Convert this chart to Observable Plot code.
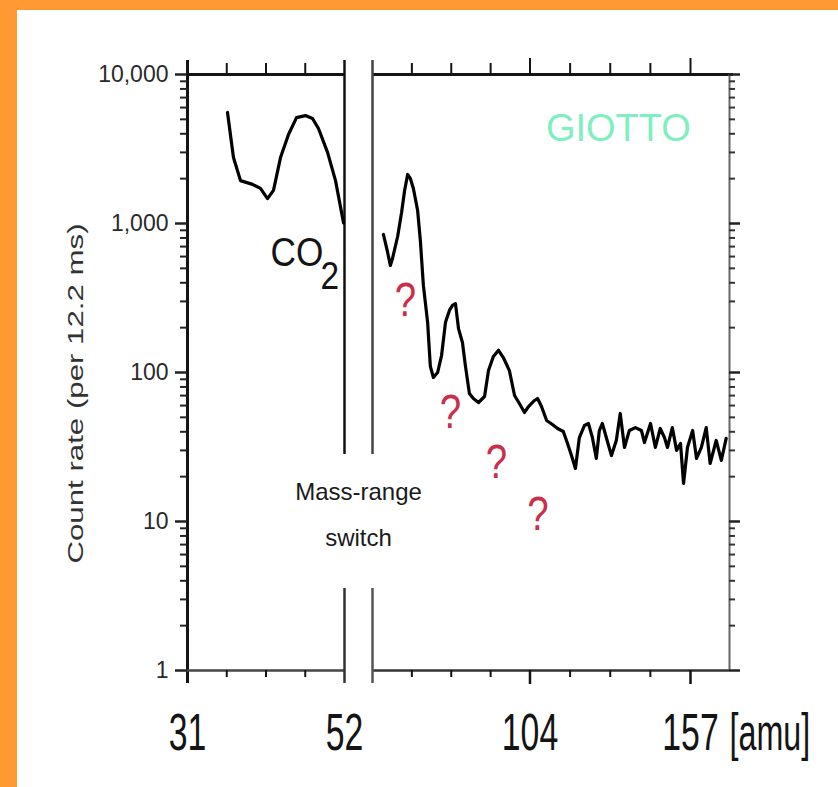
<!DOCTYPE html>
<html><head><meta charset="utf-8">
<script src="https://cdn.jsdelivr.net/npm/d3@7"></script>
<script src="https://cdn.jsdelivr.net/npm/@observablehq/plot@0.6"></script>
<style>
html,body{margin:0;padding:0;background:#fff;}
#wrap{position:relative;width:838px;height:787px;overflow:hidden;background:#fff;}
#wrap svg{position:absolute;left:0;top:0;}
.bar{position:absolute;background:#FF9933;z-index:2;}
</style></head><body>
<div id="wrap"><div class="bar" style="left:0;top:0;width:838px;height:10px"></div><div class="bar" style="left:0;top:0;width:17px;height:787px"></div></div>
<script>
// ---- data: low mass range (before switch) ----
const massLow  = [36.35, 37.15, 38.09, 39.69, 40.76, 41.70, 42.50, 43.44, 44.51, 45.58, 46.78, 47.72, 48.52, 49.73, 50.80, 51.87];
const countLow = [5560, 2770, 1940, 1830, 1720, 1470, 1670, 2770, 3960, 5140, 5300, 5070, 4340, 3000, 1940, 1010];
// ---- data: high mass range (after switch) ----
const massHigh = [55.6, 57.0, 57.9, 58.6, 60.3, 61.6, 62.6, 63.6, 64.5, 65.5,
  66.9, 67.8, 68.8, 70.2, 71.1, 72.1, 73.5, 74.8, 76.1, 77.4,
  78.4, 79.4, 80.4, 81.7, 82.7, 84.0, 85.3, 87.0, 89.0, 90.3,
  91.9, 93.6, 95.2, 97.2, 98.9, 100.5, 102.2, 103.5, 105.5, 106.5,
  107.8, 109.5, 111.4, 113.1, 115.0, 116.4, 117.7, 119.0, 120.3, 122.0,
  123.3, 124.6, 125.9, 126.9, 127.9, 129.2, 130.9, 132.5, 133.8, 135.2,
  136.8, 138.8, 140.8, 141.8, 143.8, 145.4, 147.0, 148.4, 149.4, 151.0,
  152.4, 153.7, 154.7, 156.0, 157.7, 159.0, 160.6, 162.2, 163.5, 165.5,
  167.2, 168.8];
const countHigh = [844, 639, 523, 582, 818, 1186, 1665, 2133, 2005, 1718,
  1222, 769, 384, 217, 110, 92.6, 100, 130, 217, 261,
  282, 290, 197, 159, 110, 72.3, 66.9, 62.9, 69.0, 103,
  128, 141, 126, 103, 70.1, 61.9, 53.9, 59.1, 64.9, 66.9,
  59.1, 47.6, 44.8, 42.1, 40.2, 33.4, 27.7, 22.7, 36.6, 44.1,
  45.5, 36.6, 26.5, 40.8, 45.5, 36.6, 27.7, 35.0, 53.1, 31.4,
  40.8, 42.7, 40.8, 33.9, 45.5, 31.4, 42.1, 36.6, 31.4, 42.7,
  30.0, 33.4, 18.0, 31.4, 40.8, 26.5, 31.4, 42.7, 24.5, 35.0,
  25.7, 36.1];
// ---- ticks ----
const xTickMass = [31, 52, 104, 157];
const xTickLabels = ["31", "52", "104", "157"];
const xUnit = "[amu]";
const xMinorLow = [36.25, 41.5, 46.75];
const xMinorHigh = [65, 78, 91, 117.25, 130.5, 143.75];
const yDecades = [1, 10, 100, 1000, 10000];
const yDecadeLabels = ["1", "10", "100", "1,000", "10,000"];
const yMinor = [];
for (const d of [1, 10, 100, 1000]) for (const m of [2,3,4,5,6,7,8,9]) yMinor.push(m * d);
const yTitle = "Count rate (per 12.2 ms)";
// ---- annotations (anchor points in data space) ----
const qMass = [62.9, 77.7, 92.9, 106.6];
const qCount = [303, 53.9, 24.9, 11.1];
const switchText = ["Mass-range", "switch"];
const switchCount = [15.6, 7.7];
const speciesText = "CO"; const speciesMass = 42.1; const speciesCount = 634;
const subText = "2"; const subMass = 48.8; const subCount = 437;
const missionText = "GIOTTO"; const missionMass = 133.2; const missionCount = 4306;

// scale geometry
const LOW0 = 31, SW = 52, SW2 = 52.0001, XEND = 169.9;
const aL = 21 / 157, aR = 105 / 318; // amu per pixel, low / high segments
const yPx = p => Math.pow(10, p / 149); // multiplier for p pixels on log axis

const font = "'Liberation Sans', Arial, Helvetica, sans-serif";
const ink = "#141414";

const chart = Plot.plot({
  width: 838, height: 787,
  marginLeft: 187, marginRight: 109, marginTop: 74, marginBottom: 117,
  style: {background: "transparent", fontFamily: font, overflow: "visible"},
  x: {type: "linear", domain: [LOW0, SW, SW2, 157, XEND], range: [187, 344, 372, 690, 729], axis: null},
  y: {type: "log", domain: [1, 10000], range: [670, 74], axis: null},
  marks: [
    // axes frame
    Plot.ruleX([LOW0], {y1: 1 / yPx(13), y2: 10000 * yPx(14), stroke: ink, strokeWidth: 3}),
    Plot.ruleY([10000], {x1: LOW0, x2: SW, stroke: ink, strokeWidth: 3}),
    Plot.ruleY([10000], {x1: SW2, x2: XEND + 4 * aR, stroke: ink, strokeWidth: 3}),
    Plot.ruleY([1], {x1: LOW0, x2: SW, stroke: "#444", strokeWidth: 2.5}),
    Plot.ruleY([1], {x1: SW2, x2: XEND, stroke: "#333", strokeWidth: 2.5}),
    Plot.ruleX([XEND], {y1: 1, y2: 10000, stroke: "#666", strokeWidth: 2}),
    // mass-range switch lines
    Plot.ruleX([SW], {y1: 10 * yPx(67), y2: 10000 * yPx(14), stroke: "#111", strokeWidth: 2.5}),
    Plot.ruleX([SW2], {y1: 10 * yPx(67), y2: 10000 * yPx(14), stroke: "#444", strokeWidth: 2.5}),
    Plot.ruleX([SW], {y1: 1 / yPx(13), y2: yPx(82), stroke: "#333", strokeWidth: 2.5}),
    Plot.ruleX([SW2], {y1: 1 / yPx(13), y2: yPx(82), stroke: "#555", strokeWidth: 2.5}),
    // x ticks top & bottom
    Plot.ruleX([...xMinorLow, ...xMinorHigh], {y1: 10000, y2: 10000 * yPx(11), stroke: ink, strokeWidth: 2}),
    Plot.ruleX([104, 157], {y1: 10000, y2: 10000 * yPx(16), stroke: ink, strokeWidth: 2}),
    Plot.ruleX([...xMinorLow, ...xMinorHigh], {y1: 1, y2: 1 / yPx(7), stroke: ink, strokeWidth: 2}),
    Plot.ruleX([104, 157], {y1: 1, y2: 1 / yPx(14), stroke: ink, strokeWidth: 2.5}),
    // y ticks left
    Plot.ruleY(yMinor, {x1: LOW0, x2: LOW0 - 7 * aL, stroke: "#222", strokeWidth: 2}),
    Plot.ruleY(yDecades, {x1: LOW0, x2: LOW0 - 12 * aL, stroke: "#222", strokeWidth: 2.5}),
    // y ticks right
    Plot.ruleY(yMinor, {x1: XEND, x2: XEND + 6 * aR, stroke: "#333", strokeWidth: 2}),
    Plot.ruleY(yDecades, {x1: XEND, x2: XEND + 11 * aR, stroke: "#222", strokeWidth: 2.5}),
    // y tick labels
    Plot.text(yDecades, {x: LOW0, y: d => d, text: (d, i) => yDecadeLabels[i], textAnchor: "end", dx: -19, fontSize: 23, fill: "#2a2a2a"}),
    // y title
    Plot.text([yTitle], {frameAnchor: "left", text: d => d, textAnchor: "middle", dx: -112, dy: 21, rotate: -90, fontSize: 22, fill: "#333"}),
    // x labels
    Plot.text(xTickMass, {x: d => d, y: 1, text: (d, i) => xTickLabels[i], dy: 63, fontSize: 52, fill: ink, textAnchor: "middle"}),
    Plot.text([xUnit], {x: 157, y: 1, text: d => d, dx: 39, dy: 63, fontSize: 52, fill: ink, textAnchor: "start"}),
    // spectra
    Plot.line(massLow, {x: massLow, y: countLow, stroke: "#000", strokeWidth: 3.2, strokeLinejoin: "round"}),
    Plot.line(massHigh, {x: massHigh, y: countHigh, stroke: "#000", strokeWidth: 3.2, strokeLinejoin: "round"}),
    // annotations
    Plot.text([speciesText], {x: speciesMass, y: speciesCount, text: d => d, textAnchor: "start", fontSize: 40, fill: ink}),
    Plot.text([subText], {x: subMass, y: subCount, text: d => d, textAnchor: "start", fontSize: 38, fill: ink}),
    Plot.text(switchText, {x: SW, y: (d, i) => switchCount[i], text: d => d, dx: 14, fontSize: 24, fill: "#1a1a1a", textAnchor: "middle"}),
    Plot.text(qMass, {x: d => d, y: (d, i) => qCount[i], text: () => "?", fontSize: 48, fill: "#cc2e4a", textAnchor: "middle"}),
    Plot.text([missionText], {x: missionMass, y: missionCount, text: d => d, fontSize: 38, fill: "#7fefbf", textAnchor: "middle"})
  ]
});

// horizontally condense / stretch specific labels about their own anchor
function squeeze(strings, sx, sy) {
  d3.select(chart).selectAll("text").filter(function () {
    return strings.includes(this.textContent);
  }).each(function () {
    const t = this.getAttribute("transform");
    if (t) {
      this.setAttribute("transform", t + ` scale(${sx},${sy})`);
    } else {
      const x = +this.getAttribute("x") || 0, y = +this.getAttribute("y") || 0;
      this.setAttribute("transform", `translate(${x},${y}) scale(${sx},${sy}) translate(${-x},${-y})`);
    }
  });
}
squeeze(xTickLabels, 0.65, 1);
squeeze([xUnit], 0.62, 1);
squeeze([speciesText, subText], 0.88, 1);
squeeze(["?"], 0.8, 1);
squeeze([yTitle], 1.42, 1);

document.getElementById("wrap").appendChild(chart);
</script>
</body></html>
